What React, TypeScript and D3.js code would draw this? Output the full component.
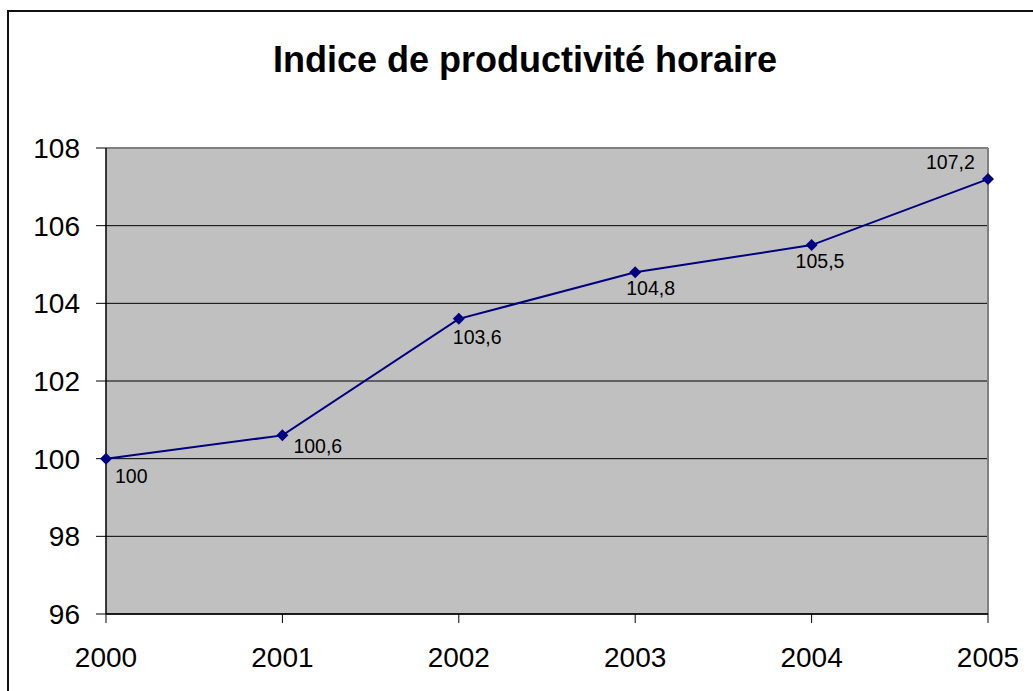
import React from "react";
import * as d3 from "d3";

const years = [2000, 2001, 2002, 2003, 2004, 2005];
const values = [100, 100.6, 103.6, 104.8, 105.5, 107.2];
const valueLabels = ["100", "100,6", "103,6", "104,8", "105,5", "107,2"];
const yTicks = [96, 98, 100, 102, 104, 106, 108];
const title = "Indice de productivité horaire";

// label placement offsets relative to each point (layout, not data)
const labelOffsets: [number, number][] = [
  [9, 24],
  [11, 18],
  [-6, 25],
  [-9, 23],
  [-16, 23],
  [-62, -10],
];

const FONT = "'Liberation Sans', Arial, sans-serif";

export default function App() {
  const W = 1033;
  const H = 691;
  const left = 106;
  const right = 988;
  const top = 148;
  const bottom = 614;

  const x = d3.scaleLinear().domain([2000, 2005]).range([left, right]);
  const y = d3.scaleLinear().domain([96, 108]).range([bottom, top]);

  const line = d3
    .line<number>()
    .x((_, i) => x(years[i]))
    .y((d) => y(d));

  const diamond = (cx: number, cy: number, r: number) =>
    `M${cx},${cy - r}L${cx + r},${cy}L${cx},${cy + r}L${cx - r},${cy}Z`;

  return (
    <svg
      width={W}
      height={H}
      style={{ position: "absolute", left: 0, top: 0, display: "block", background: "#fff" }}
      fontFamily={FONT}
    >
      <rect x={0} y={0} width={W} height={H} fill="#fff" />
      {/* outer chart border (extends beyond visible area) */}
      <rect x={8} y={11} width={W + 20} height={H + 20} fill="none" stroke="#111" strokeWidth={2} />

      <text x={525} y={72} textAnchor="middle" fontSize={36} fontWeight="bold" fill="#000">
        {title}
      </text>

      {/* plot area */}
      <rect x={left} y={top} width={right - left} height={bottom - top} fill="#C0C0C0" />

      {/* gridlines */}
      {yTicks.map((t) => (
        <line key={"g" + t} x1={left} x2={right} y1={y(t)} y2={y(t)} stroke="#000" strokeWidth={1} />
      ))}

      {/* plot border top/right */}
      <line x1={left} x2={right} y1={top} y2={top} stroke="#808080" strokeWidth={2} />
      <line x1={right} x2={right} y1={top} y2={bottom} stroke="#808080" strokeWidth={2} />

      {/* axes */}
      <line x1={left} x2={left} y1={top} y2={bottom} stroke="#000" strokeWidth={1.5} />
      <line x1={left} x2={right} y1={bottom} y2={bottom} stroke="#000" strokeWidth={1.5} />

      {/* y ticks */}
      {yTicks.map((t) => (
        <g key={"yt" + t}>
          <line x1={left - 10} x2={left} y1={y(t)} y2={y(t)} stroke="#000" strokeWidth={1} />
          <text x={80} y={y(t) + 10} textAnchor="end" fontSize={28} fill="#000">
            {t}
          </text>
        </g>
      ))}

      {/* x ticks */}
      {years.map((yr) => (
        <g key={"xt" + yr}>
          <line x1={x(yr)} x2={x(yr)} y1={bottom} y2={bottom + 9} stroke="#000" strokeWidth={1} />
          <text x={x(yr)} y={667} textAnchor="middle" fontSize={28} fill="#000">
            {yr}
          </text>
        </g>
      ))}

      {/* series */}
      <path d={line(values) || ""} fill="none" stroke="#000080" strokeWidth={2} />
      {values.map((v, i) => (
        <path key={"m" + i} d={diamond(x(years[i]), y(v), 6)} fill="#000080" />
      ))}

      {/* data labels */}
      {values.map((v, i) => (
        <text
          key={"l" + i}
          x={x(years[i]) + labelOffsets[i][0]}
          y={y(v) + labelOffsets[i][1]}
          fontSize={19.5}
          fill="#000"
        >
          {valueLabels[i]}
        </text>
      ))}
    </svg>
  );
}
